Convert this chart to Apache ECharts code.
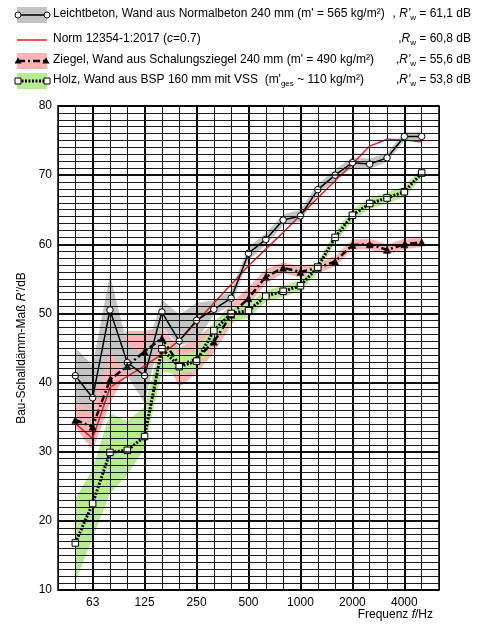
<!DOCTYPE html>
<html><head><meta charset="utf-8">
<script src="https://cdn.jsdelivr.net/npm/echarts@6/dist/echarts.min.js"></script>
<style>html,body{margin:0;padding:0;background:#fff}#c{width:477px;height:624px}</style>
</head><body><div id="c"></div><script>
// third-octave band centre frequencies (axis runs 40 Hz .. 6300 Hz)
const freqs = ['40','50','63','80','100','125','160','200','250','315','400','500','630','800','1000','1250','1600','2000','2500','3150','4000','5000','6300'];
const tickLabels = ['63','125','250','500','1000','2000','4000'];
const yTicks = [10,20,30,40,50,60,70,80];

// values at 50 .. 5000 Hz (21 bands)
const leichtbeton = [41.0,37.8,50.5,42.9,41.0,50.2,46.0,49.0,50.6,52.2,58.7,60.7,63.5,64.1,67.9,70.0,71.8,71.6,72.5,75.6,75.6];
const norm        = [34.1,31.9,39.3,40.9,42.4,44.1,46.1,48.8,51.5,54.2,56.9,59.3,61.7,64.2,66.7,69.2,71.6,74.2,75.2,75.1,74.8];
const ziegel      = [34.6,33.6,40.4,42.4,44.5,46.4,42.6,43.4,45.9,49.8,52.2,55.3,56.6,56.0,56.6,57.5,59.9,60.0,59.2,60.0,60.3];
const holz        = [16.8,22.5,29.9,30.2,32.2,44.9,42.3,43.1,47.5,50.0,50.4,52.5,53.2,54.0,56.7,61.0,64.2,65.9,66.7,67.6,70.3];

// shaded ranges (lower / upper)
const leichtLow  = [37.0,36.2,44.5,41.0,37.0,48.0,45.4,46.0,49.8,51.2,57.7,59.9,62.8,63.3,67.2,69.3,71.0,70.9,71.9,75.0,75.0];
const leichtHigh = [45.0,42.5,55.6,45.5,44.0,52.0,49.8,51.5,51.9,53.3,59.6,61.6,64.3,65.0,68.7,70.8,72.6,72.4,73.2,76.2,76.2];
const ziegelLow  = [33.5,30.2,37.0,41.5,40.5,44.5,39.3,41.4,44.3,48.3,51.2,54.3,55.8,55.2,55.8,56.8,59.2,59.3,58.5,59.3,59.6];
const ziegelHigh = [37.5,37.0,45.5,47.5,47.5,48.0,45.0,46.5,48.5,51.5,53.8,56.4,57.4,56.8,57.3,58.3,60.7,60.8,60.0,60.8,61.0];
const holzLow    = [11.2,17.5,24.0,26.6,30.5,41.5,41.3,41.8,46.0,48.8,49.4,51.7,52.4,53.2,55.9,60.2,63.4,65.1,65.9,66.8,69.5];
const holzHigh   = [23.2,27.5,35.6,34.4,36.5,46.5,44.0,44.5,48.8,50.9,51.4,53.3,54.0,54.8,57.5,61.8,65.0,66.7,67.5,68.4,71.1];

const FF = '"Liberation Sans", Arial, Helvetica, sans-serif';
const pad = a => [null].concat(a, [null]);
const diff = (lo, hi) => hi.map((v, i) => +(v - lo[i]).toFixed(2));
const COL = { grey: '#c4c4c4', pink: '#ffb4b4', green: '#b6ec8f', red: '#ee1d24' };

// 1 dB grid lines (minor) and 10 dB lines (major)
const gridLevels = [];
for (let v = 11; v < 80; v++) if (v % 10 !== 0) gridLevels.push(v);

function band(name, lo, hi, color) {
  return [
    { name: name + '_lo', type: 'line', stack: name, data: pad(lo), symbol: 'none',
      lineStyle: { opacity: 0 }, z: 1, silent: true },
    { name: name + '_hi', type: 'line', stack: name, data: pad(diff(lo, hi)), symbol: 'none',
      lineStyle: { opacity: 0 }, areaStyle: { color: color, opacity: 1 }, z: 1, silent: true }
  ];
}

const rich = {
  n: { fontSize: 12, fontFamily: FF, color: '#000', lineHeight: 14, verticalAlign: 'top' },
  i: { fontSize: 12, fontFamily: FF, color: '#000', fontStyle: 'italic', lineHeight: 14, verticalAlign: 'top' },
  s: { fontSize: 8, fontFamily: FF, color: '#000', lineHeight: 9, padding: [6, 0, 0, 0], verticalAlign: 'top' }
};
function txt(x, y, text, align) {
  return { type: 'text', z: 10, style: { x: x, y: y, text: text, rich: rich, align: align || 'left', verticalAlign: 'middle' } };
}
const rowY = [15, 40, 61, 81];
const legend = [
  { type: 'rect', shape: { x: 17, y: 7, width: 30, height: 16 }, style: { fill: COL.grey } },
  { type: 'line', shape: { x1: 18, y1: 15, x2: 47, y2: 15 }, style: { stroke: '#000', lineWidth: 1.5 } },
  { type: 'circle', shape: { cx: 18, cy: 15, r: 3 }, style: { fill: '#fff', stroke: '#000', lineWidth: 1 } },
  { type: 'circle', shape: { cx: 47, cy: 15, r: 3 }, style: { fill: '#fff', stroke: '#000', lineWidth: 1 } },
  { type: 'line', shape: { x1: 17, y1: 40, x2: 47, y2: 40 }, style: { stroke: COL.red, lineWidth: 1.5 } },
  { type: 'rect', shape: { x: 17, y: 53, width: 30, height: 16 }, style: { fill: COL.pink } },
  { type: 'line', shape: { x1: 18, y1: 61, x2: 47, y2: 61 }, style: { stroke: '#000', lineWidth: 2.5, lineDash: [7, 3, 2, 3] } },
  { type: 'polygon', shape: { points: [[18, 57.5], [14.5, 63.5], [21.5, 63.5]] }, style: { fill: '#000' } },
  { type: 'polygon', shape: { points: [[46, 57.5], [42.5, 63.5], [49.5, 63.5]] }, style: { fill: '#000' } },
  { type: 'rect', shape: { x: 17, y: 73, width: 30, height: 16 }, style: { fill: COL.green } },
  { type: 'line', shape: { x1: 18, y1: 81, x2: 47, y2: 81 }, style: { stroke: '#000', lineWidth: 3, lineDash: [2, 1.5] } },
  { type: 'rect', shape: { x: 15, y: 78, width: 6, height: 6 }, style: { fill: '#fff', stroke: '#000', lineWidth: 1 } },
  { type: 'rect', shape: { x: 44, y: 78, width: 6, height: 6 }, style: { fill: '#fff', stroke: '#000', lineWidth: 1 } },
  txt(53, rowY[0], "{n|Leichtbeton, Wand aus Normalbeton 240 mm (m' = 565 kg/m²)}"),
  txt(471, rowY[0], "{n|, }{i|R'}{s|w}{n| = 61,1 dB}", 'right'),
  txt(53, rowY[1], "{n|Norm 12354-1:2017 (}{i|c}{n|=0.7)}"),
  txt(471, rowY[1], "{n|,}{i|R}{s|w}{n| = 60,8 dB}", 'right'),
  txt(53, rowY[2], "{n|Ziegel, Wand aus Schalungsziegel 240 mm (m' = 490 kg/m²)}"),
  txt(471, rowY[2], "{n|,}{i|R'}{s|w}{n| = 55,6 dB}", 'right'),
  txt(53, rowY[3], "{n|Holz, Wand aus BSP 160 mm mit VSS  (m'}{s|ges}{n| ~ 110 kg/m²)}"),
  txt(471, rowY[3], "{n|,}{i|R'}{s|w}{n| = 53,8 dB}", 'right'),
  { type: 'text', z: 10, style: { x: 433, y: 615, align: 'right', verticalAlign: 'middle',
      text: '{a|Frequenz }{b|f}{a|/Hz}',
      rich: { a: { fontSize: 12, fontFamily: FF, color: '#000' }, b: { fontSize: 12, fontFamily: FF, color: '#000', fontStyle: 'italic' } } } }
];

const chart = echarts.init(document.getElementById('c'), null, { renderer: 'canvas' });
chart.setOption({
  animation: false,
  backgroundColor: '#fff',
  grid: { left: 58, right: 38, top: 106, bottom: 34, containLabel: false },
  graphic: legend,
  xAxis: [
    { type: 'category', data: freqs, boundaryGap: false, position: 'bottom', z: 2,
      axisLine: { show: true, lineStyle: { color: '#000', width: 1.5 } },
      axisTick: { show: false },
      axisLabel: { interval: (i, v) => tickLabels.indexOf(v) >= 0, color: '#000', fontSize: 12, fontFamily: FF, margin: 7 },
      splitLine: { show: true, interval: 0, lineStyle: { color: '#111', width: 1 } } },
    { type: 'category', data: freqs, boundaryGap: false, position: 'top', z: 2,
      axisLine: { show: true, lineStyle: { color: '#000', width: 1.5 } },
      axisTick: { show: false }, axisLabel: { show: false },
      splitLine: { show: true, interval: (i, v) => tickLabels.indexOf(v) >= 0, lineStyle: { color: '#000', width: 2 } } }
  ],
  yAxis: [
    { type: 'value', min: 10, max: 80, interval: 10, position: 'left', z: 2,
      name: "{n|Bau-Schalldämm-Maß }{i|R'}{n|/dB}", nameLocation: 'middle', nameGap: 24,
      nameTextStyle: { rich: { n: { fontSize: 12, fontFamily: FF, color: '#000' }, i: { fontSize: 12, fontFamily: FF, color: '#000', fontStyle: 'italic' } } },
      axisLine: { show: true, lineStyle: { color: '#000', width: 1.5 } },
      axisTick: { show: false },
      axisLabel: { color: '#000', fontSize: 12, fontFamily: FF, margin: 6 },
      splitLine: { show: true, lineStyle: { color: '#000', width: 1.6 } } },
    { type: 'value', min: 10, max: 80, interval: 10, position: 'right', z: 2,
      axisLine: { show: true, lineStyle: { color: '#000', width: 1.5 } },
      axisTick: { show: false }, axisLabel: { show: false }, splitLine: { show: false } }
  ],
  series: [
    ...band('ziegelBand', ziegelLow, ziegelHigh, COL.pink),
    ...band('leichtBand', leichtLow, leichtHigh, COL.grey),
    ...band('holzBand', holzLow, holzHigh, COL.green),
    { name: 'grid', type: 'line', data: [], z: 2, silent: true,
      markLine: { silent: true, symbol: 'none', animation: false, label: { show: false },
        lineStyle: { color: '#1a1a1a', width: 1, type: 'solid' },
        data: gridLevels.map(v => ({ yAxis: v }))
          .concat(yTicks.map(v => ({ yAxis: v, lineStyle: { color: '#000', width: 1.6, type: 'solid' } }))) } },
    { name: 'Norm', type: 'line', data: pad(norm), symbol: 'none', z: 3,
      lineStyle: { color: COL.red, width: 1.5 } },
    { name: 'Leichtbeton', type: 'line', data: pad(leichtbeton), z: 4,
      symbol: 'circle', symbolSize: 6.5,
      itemStyle: { color: '#fff', borderColor: '#000', borderWidth: 1 },
      lineStyle: { color: '#000', width: 1.5 } },
    { name: 'Ziegel', type: 'line', data: pad(ziegel), z: 4,
      symbol: 'triangle', symbolSize: 7,
      itemStyle: { color: '#000', borderColor: '#000', borderWidth: 0.5 },
      lineStyle: { color: '#000', width: 2.5, type: [7, 3, 2, 3] } },
    { name: 'Holz', type: 'line', data: pad(holz), z: 4,
      symbol: 'rect', symbolSize: 6.5,
      itemStyle: { color: '#fff', borderColor: '#000', borderWidth: 1 },
      lineStyle: { color: '#000', width: 3, type: [2, 1.5] } }
  ]
});
</script></body></html>
